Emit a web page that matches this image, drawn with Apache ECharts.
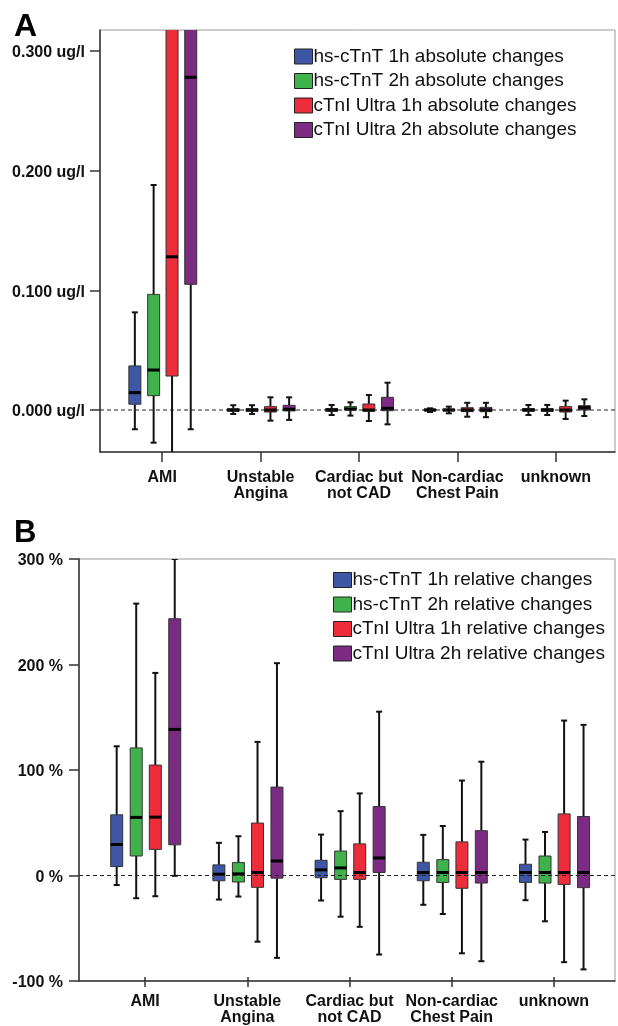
<!DOCTYPE html>
<html>
<head>
<meta charset="utf-8">
<script src="https://cdn.jsdelivr.net/npm/echarts@6/dist/echarts.min.js"></script>
<style>
  html, body { margin: 0; padding: 0; background: #fff; }
  #chart { width: 618px; height: 1026px; }
</style>
</head>
<body>
<div id="chart"></div>
<script>
// categories on the x axis (same for both panels)
const categories = ['AMI', 'Unstable\nAngina', 'Cardiac but\nnot CAD', 'Non-cardiac\nChest Pain', 'unknown'];

// panel A, absolute changes (ug/l), per category: [min, q1, median, q3, max]
const tntAbs1h = [
  [-0.0161, 0.0048, 0.0145, 0.0368, 0.0816],
  [-0.0033, -0.001, 0, 0.001, 0.004],
  [-0.0042, -0.001, 0, 0.0012, 0.0042],
  [-0.0017, -0.0008, 0, 0.0008, 0.0014],
  [-0.0042, -0.001, 0, 0.0012, 0.0042],
];
const tntAbs2h = [
  [-0.0273, 0.012, 0.0334, 0.0966, 0.188],
  [-0.0033, -0.0011, 0, 0.0011, 0.004],
  [-0.0047, 0, 0.0008, 0.0028, 0.0064],
  [-0.0028, -0.0008, 0, 0.0008, 0.0028],
  [-0.0042, -0.0011, 0, 0.0011, 0.0042],
];
const tniAbs1h = [
  [-0.04, 0.0284, 0.128, 0.46, 0.9],
  [-0.0089, -0.0017, 0, 0.0028, 0.0106],
  [-0.0092, -0.0011, 0, 0.005, 0.0125],
  [-0.0056, -0.0014, 0, 0.0019, 0.006],
  [-0.0075, -0.0017, 0, 0.0028, 0.0078],
];
const tniAbs2h = [
  [-0.0161, 0.105, 0.278, 0.62, 1.2],
  [-0.0083, -0.0008, 0.0006, 0.0039, 0.0106],
  [-0.012, -0.0006, 0.0014, 0.0106, 0.0228],
  [-0.006, -0.0014, 0, 0.0022, 0.006],
  [-0.005, 0, 0.002, 0.0036, 0.0089],
];

// panel B, relative changes (%)
const tntRel1h = [
  [-12, 5.7, 26.8, 55.2, 120.8],
  [-25.9, -7.9, -1.6, 7.3, 28.4],
  [-26.8, -5, 2.5, 11.7, 36.3],
  [-30.9, -7.9, 0, 9.8, 36],
  [-26.5, -9.5, 0, 7.9, 31.5],
];
const tntRel2h = [
  [-24.6, 15.8, 52.7, 119.2, 257.3],
  [-23, -9.1, -1.3, 9.5, 34.7],
  [-42.3, -6.6, 4.4, 20.5, 58.7],
  [-39.7, -9.5, 0, 12.3, 44.5],
  [-46.7, -10.1, 0, 15.8, 38.8],
];
const tniRel1h = [
  [-22.7, 22.1, 53, 102.8, 191],
  [-66.2, -14.2, 0, 47.3, 125],
  [-52, -6.6, 0, 27.4, 75.7],
  [-77.3, -15.1, 0, 29.3, 88],
  [-85.8, -11.4, 0, 56.1, 145.4],
];
const tniRel2h = [
  [-3.2, 26.5, 136.9, 242.8, 300],
  [-81.7, -5.4, 11, 81.7, 200.3],
  [-78.5, 0, 13.9, 63.1, 153.9],
  [-84.9, -10.1, 0, 40, 106],
  [-92.7, -14.5, 0, 53.6, 141.3],
];

const namesA = ['hs-cTnT 1h absolute changes', 'hs-cTnT 2h absolute changes', 'cTnI Ultra 1h absolute changes', 'cTnI Ultra 2h absolute changes'];
const namesB = ['hs-cTnT 1h relative changes', 'hs-cTnT 2h relative changes', 'cTnI Ultra 1h relative changes', 'cTnI Ultra 2h relative changes'];
const absTicks = [0, 0.1, 0.2, 0.3];
const zeroLine = [[0, 0], [1, 0]];

const colors = ['#3d57a6', '#3fb24c', '#ee2d3b', '#7c2b83'];
const offsets = [-0.278, -0.087, 0.1, 0.29]; // box position inside a category band
const FONT = '"Liberation Sans", Arial, sans-serif';

function boxRenderer(k) {
  return function (params, api) {
    const cat = api.value(0);
    const band = api.size([1, 0])[0];
    const cx = api.coord([cat, 0])[0] + offsets[k] * band;
    const y = [1, 2, 3, 4, 5].map((i) => api.coord([cat, api.value(i)])[1]);
    const hw = 6, cap = 3;
    const wl = { stroke: '#111', lineWidth: 2 };
    return {
      type: 'group',
      children: [
        { type: 'line', shape: { x1: cx, y1: y[0], x2: cx, y2: y[1] }, style: wl },
        { type: 'line', shape: { x1: cx, y1: y[3], x2: cx, y2: y[4] }, style: wl },
        { type: 'line', shape: { x1: cx - cap, y1: y[0], x2: cx + cap, y2: y[0] }, style: wl },
        { type: 'line', shape: { x1: cx - cap, y1: y[4], x2: cx + cap, y2: y[4] }, style: wl },
        { type: 'rect', shape: { x: cx - hw, y: y[3], width: hw * 2, height: y[1] - y[3] },
          style: { fill: colors[k], stroke: '#333', lineWidth: 1 } },
        { type: 'line', shape: { x1: cx - hw, y1: y[2], x2: cx + hw, y2: y[2] },
          style: { stroke: '#000', lineWidth: 3 } },
      ],
    };
  };
}

function boxSeries(name, values, k, axisIdx) {
  return {
    name: name,
    type: 'custom',
    xAxisIndex: axisIdx,
    yAxisIndex: axisIdx,
    clip: true,
    z: 2,
    itemStyle: { color: colors[k] },
    encode: { x: 0, y: [1, 2, 3, 4, 5] },
    renderItem: boxRenderer(k),
    data: values.map((d, i) => [i].concat(d)),
  };
}

function frameX(gi) {
  return {
    gridIndex: gi, type: 'value', min: 0, max: 1,
    axisLine: { show: true, onZero: false, lineStyle: { color: '#333', width: 1.5 } },
    axisTick: { show: false }, axisLabel: { show: false }, splitLine: { show: false },
  };
}
function catX(gi, margin) {
  return {
    gridIndex: gi, type: 'category', data: categories, boundaryGap: true,
    axisLine: { show: false, onZero: false },
    axisTick: { show: true, alignWithLabel: true, length: 10, lineStyle: { color: '#333', width: 1.5 } },
    axisLabel: { margin: margin, fontSize: 16, fontWeight: 'bold', lineHeight: 16, color: '#111', fontFamily: FONT, interval: 0 },
  };
}
function hiddenY(gi, min, max) {
  return { gridIndex: gi, type: 'value', min: min, max: max, show: false, axisLine: { onZero: false } };
}
const legendCommon = {
  orient: 'vertical', icon: 'rect', itemWidth: 18, itemHeight: 15, itemGap: 4.5, padding: 0,
  itemStyle: { borderColor: '#222', borderWidth: 1 },
  textStyle: { fontSize: 19, lineHeight: 20, color: '#111', fontFamily: FONT, padding: [0, 0, 0, -4] },
};

const option = {
  animation: false,
  backgroundColor: '#fff',
  textStyle: { fontFamily: FONT },
  title: [
    { text: 'A', left: 9, top: 6, textStyle: { fontSize: 32, fontWeight: 'bold', color: '#000', fontFamily: FONT } },
    { text: 'B', left: 9, top: 513, textStyle: { fontSize: 31, fontWeight: 'bold', color: '#000', fontFamily: FONT } },
  ],
  legend: [
    Object.assign({ data: namesA, left: 294, top: 46.5 }, legendCommon),
    Object.assign({ data: namesB, left: 333, top: 570 }, legendCommon),
  ],
  grid: [
    { left: 100, top: 30, width: 515, height: 422, show: true, borderColor: '#999', borderWidth: 1 },
    { left: 113, top: 30, width: 492, height: 422 },
    { left: 79, top: 559, width: 536, height: 422, show: true, borderColor: '#999', borderWidth: 1 },
    { left: 94, top: 559, width: 511, height: 422 },
  ],
  xAxis: [frameX(0), catX(1, 18), frameX(2), catX(3, 17)],
  yAxis: [
    {
      gridIndex: 0, type: 'value', min: -0.0351, max: 0.3175,
      axisLine: { show: true, onZero: false, lineStyle: { color: '#333', width: 1.5 } },
      axisTick: { show: true, length: 10, customValues: absTicks, lineStyle: { color: '#333', width: 1.5 } },
      axisLabel: { customValues: absTicks, margin: 15, fontSize: 16, fontWeight: 'bold', color: '#111', fontFamily: FONT,
        verticalAlign: 'top', lineHeight: 4, formatter: (v) => v.toFixed(3) + ' ug/l' },
      splitLine: { show: false },
    },
    hiddenY(1, -0.0351, 0.3175),
    {
      gridIndex: 2, type: 'value', min: -100, max: 300, interval: 100,
      axisLine: { show: true, onZero: false, lineStyle: { color: '#333', width: 1.5 } },
      axisTick: { show: true, length: 10, lineStyle: { color: '#333', width: 1.5 } },
      axisLabel: { margin: 16, fontSize: 16, fontWeight: 'bold', color: '#111', fontFamily: FONT,
        verticalAlign: 'top', lineHeight: 4, formatter: (v) => v + ' %' },
      splitLine: { show: false },
    },
    hiddenY(3, -100, 300),
  ],
  series: [
    boxSeries(namesA[0], tntAbs1h, 0, 1),
    boxSeries(namesA[1], tntAbs2h, 1, 1),
    boxSeries(namesA[2], tniAbs1h, 2, 1),
    boxSeries(namesA[3], tniAbs2h, 3, 1),
    boxSeries(namesB[0], tntRel1h, 0, 3),
    boxSeries(namesB[1], tntRel2h, 1, 3),
    boxSeries(namesB[2], tniRel1h, 2, 3),
    boxSeries(namesB[3], tniRel2h, 3, 3),
    { type: 'line', xAxisIndex: 0, yAxisIndex: 0, data: zeroLine, symbol: 'none', silent: true, z: 3,
      lineStyle: { color: '#222', width: 1.2, type: [4, 3] } },
    { type: 'line', xAxisIndex: 2, yAxisIndex: 2, data: zeroLine, symbol: 'none', silent: true, z: 3,
      lineStyle: { color: '#222', width: 1.2, type: [4, 3] } },
  ],
};

const chart = echarts.init(document.getElementById('chart'));
chart.setOption(option);
</script>
</body>
</html>
